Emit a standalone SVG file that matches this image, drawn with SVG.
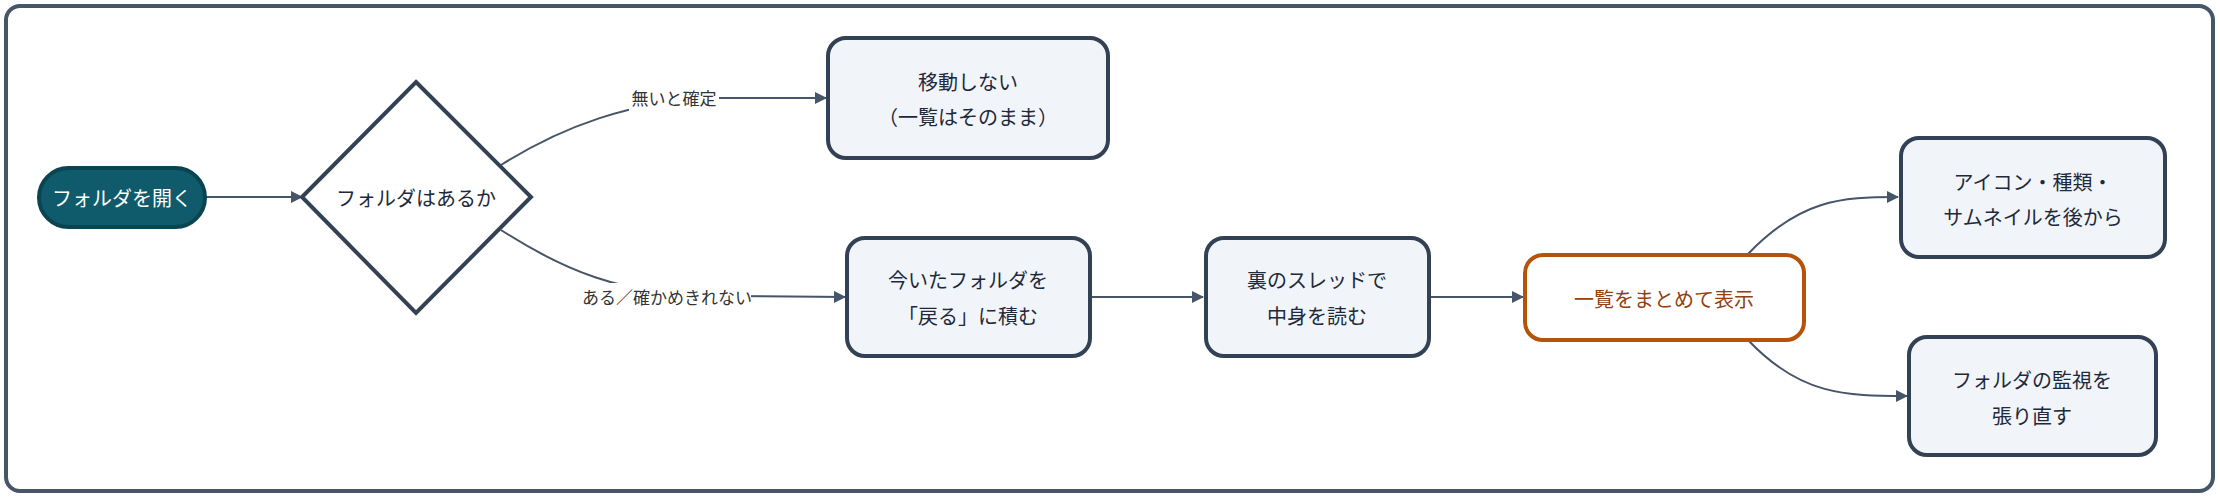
<svg xmlns="http://www.w3.org/2000/svg" width="2220" height="498" viewBox="0 0 2220 498">
<defs>
<marker id="ah" markerWidth="12" markerHeight="12" refX="11" refY="6" orient="auto" markerUnits="userSpaceOnUse"><path d="M0,0 L12,6 L0,12 z" fill="#475569"/></marker>
<style>
text{font-family:"Noto Sans CJK JP","Noto Sans",sans-serif;text-anchor:middle;dominant-baseline:central}
.box{fill:#f1f5f9;stroke:#334155;stroke-width:4}
.t{font-size:20px;fill:#1e293b}
.lbl{font-size:17px;fill:#333}
.e{fill:none;stroke:#475569;stroke-width:2;marker-end:url(#ah)}
</style>
</defs>
<rect x="6" y="6" width="2207" height="485" rx="14" fill="#fff" stroke="#475569" stroke-width="4"/>
<g id="connectors">
<path class="e" d="M205,197 L302,197"/>
<path class="e" d="M501,165 C560,128 630,100 720,98 L826,98"/>
<path class="e" d="M501,230 C560,268 620,296 720,296 L845,297"/>
<path class="e" d="M1090,297 L1203,297"/>
<path class="e" d="M1429,297 L1523,297"/>
<path class="e" d="M1748,254 C1800,200 1840,197 1898,197"/>
<path class="e" d="M1748,340 C1800,395 1845,396 1907,396"/>
<rect x="629" y="85" width="90" height="26" fill="#fff"/>
<text class="lbl" x="674" y="97">無いと確定</text>
<rect x="583" y="283" width="168" height="26" fill="#fff"/>
<text class="lbl" x="667" y="296">ある／確かめきれない</text>
</g>
<g id="start"><rect x="39" y="168" width="166" height="59" rx="29.5" fill="#0f5b6b" stroke="#0b4451" stroke-width="4"/><text class="t" x="122" y="197" style="fill:#fff">フォルダを開く</text></g>
<g id="decision"><path d="M416,82 L531,197 L416,313 L302,197 z" fill="#fff" stroke="#334155" stroke-width="4"/><text class="t" x="416" y="197">フォルダはあるか</text></g>
<g id="nomove"><rect class="box" x="828" y="38" width="280" height="120" rx="18"/><text class="t" x="968" y="81">移動しない</text><text class="t" x="968" y="116">（一覧はそのまま）</text></g>
<g id="push"><rect class="box" x="847" y="238" width="243" height="118" rx="18"/><text class="t" x="968" y="279">今いたフォルダを</text><text class="t" x="968" y="315">「戻る」に積む</text></g>
<g id="thread"><rect class="box" x="1206" y="238" width="223" height="118" rx="18"/><text class="t" x="1317" y="279">裏のスレッドで</text><text class="t" x="1317" y="315">中身を読む</text></g>
<g id="show"><rect x="1525" y="255" width="279" height="85" rx="18" fill="#fff" stroke="#b45309" stroke-width="4"/><text class="t" x="1664" y="298" style="fill:#92400e">一覧をまとめて表示</text></g>
<g id="icons"><rect class="box" x="1901" y="138" width="264" height="119" rx="18"/><text class="t" x="2033" y="181">アイコン・種類・</text><text class="t" x="2033" y="216">サムネイルを後から</text></g>
<g id="watch"><rect class="box" x="1909" y="337" width="247" height="118" rx="18"/><text class="t" x="2032" y="379">フォルダの監視を</text><text class="t" x="2032" y="415">張り直す</text></g>
</svg>
